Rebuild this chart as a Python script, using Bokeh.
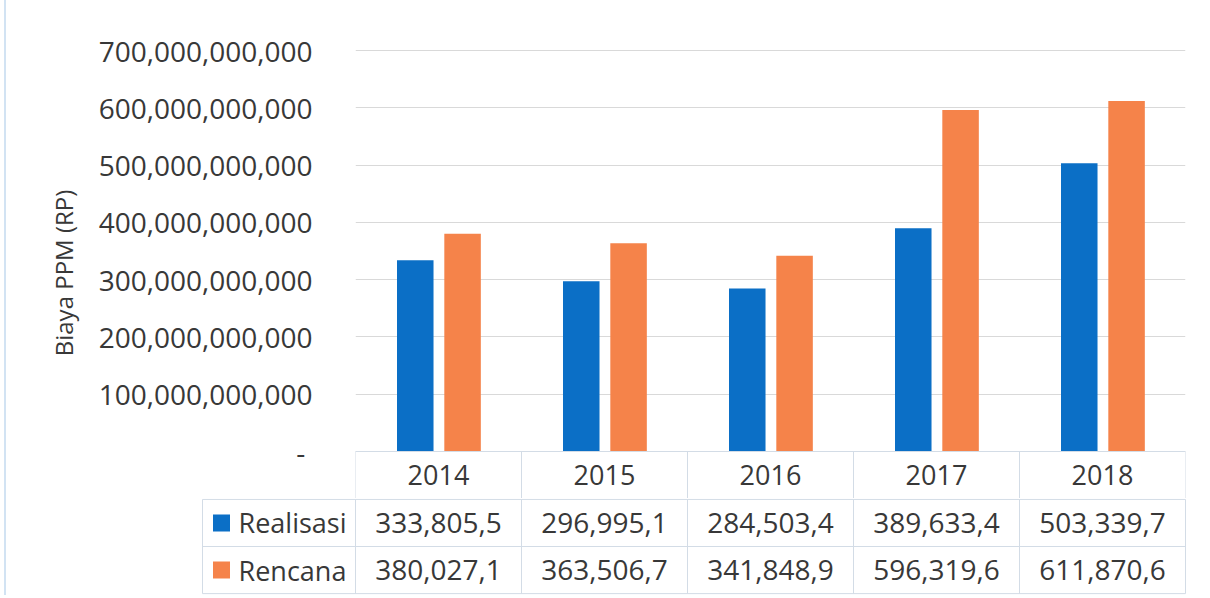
from bokeh.plotting import figure
from bokeh.layouts import column
from bokeh.models import Range1d, FixedTicker, NumeralTickFormatter, ColumnDataSource, FactorRange
from bokeh.transform import dodge
from bokeh.core.properties import value
from bokeh.embed import file_html
from bokeh.resources import INLINE

# ---------------- data ----------------
years = ["2014", "2015", "2016", "2017", "2018"]
series_names = ["Realisasi", "Rencana"]
realisasi = [333805.5e6, 296995.1e6, 284503.4e6, 389633.4e6, 503339.7e6]
rencana = [380027.1e6, 363506.7e6, 341848.9e6, 596319.6e6, 611870.6e6]
y_ticks = [0, 100e9, 200e9, 300e9, 400e9, 500e9, 600e9, 700e9]

BLUE = "#0B6FC6"
ORANGE = "#F5834A"
TEXT = "#383838"
GRID = "#d9d9d9"
TABLE_LINE = "#d3dce6"
FONT = "Open Sans"
n = len(years)
SHIFT = 6   # room for the chart's left border line

# ---------------- top chart (bars + header row of the table) ----------------
src = ColumnDataSource(dict(year=years, realisasi=realisasi, rencana=rencana))

Y_MAX = 700e9
PX_PER_UNIT = 401.0 / Y_MAX            # pixels per value unit
HEADER_H = 47.0                          # header row height (px)
TOP_PAD = 3.0
y_min = -HEADER_H / PX_PER_UNIT
y_max = Y_MAX + TOP_PAD / PX_PER_UNIT

p1 = figure(width=1205 - SHIFT, height=498,
            x_range=FactorRange(*years), y_range=Range1d(y_min, y_max),
            x_axis_location=None, output_backend="svg", toolbar_location=None,
            min_border_left=355 - SHIFT, min_border_right=20,
            min_border_top=50 - int(TOP_PAD), min_border_bottom=0)
p1.outline_line_color = None

p1.vbar(x=dodge("year", -0.14, range=p1.x_range), top="realisasi", width=0.22,
        source=src, fill_color=BLUE, line_color=None)
p1.vbar(x=dodge("year", 0.145, range=p1.x_range), top="rencana", width=0.22,
        source=src, fill_color=ORANGE, line_color=None)

ax = p1.yaxis[0]
ax.ticker = FixedTicker(ticks=y_ticks)
ax.formatter = NumeralTickFormatter(format="0,0")
ax.major_label_overrides = {0: "-\u00a0"}
ax.axis_line_color = None
ax.major_tick_line_color = None
ax.minor_tick_line_color = None
ax.major_tick_out = 0
ax.major_tick_in = 0
ax.major_label_standoff = 43
ax.major_label_text_font = FONT
ax.major_label_text_font_size = "28px"
ax.major_label_text_color = TEXT
ax.axis_label = "Biaya PPM (RP)"
ax.axis_label_text_font = FONT
ax.axis_label_text_font_size = "24px"
ax.axis_label_text_font_style = "normal"
ax.axis_label_text_color = TEXT
ax.axis_label_standoff = 16

p1.xgrid.visible = False
p1.ygrid.grid_line_color = GRID
p1.ygrid.grid_line_width = 1

# header row: cell borders and years
hy = y_min / 2.0
p1.segment(x0=list(range(n + 1)), y0=[y_min] * (n + 1), x1=list(range(n + 1)), y1=[0] * (n + 1),
           line_color=TABLE_LINE, line_width=1)
p1.segment(x0=[0], y0=[0], x1=[n], y1=[0], line_color=TABLE_LINE, line_width=1)
p1.text(x=[i + 0.5 for i in range(n)], y=[hy] * n, text=years, text_align="center",
        text_baseline="middle", text_font=value(FONT), text_font_size="27px", text_color=TEXT)

# ---------------- data rows of the table ----------------
PX = 166.0  # pixels per category
x_start = -(355 - 198) / PX
x_end = 5 + 4 / PX
p2 = figure(width=1205 - SHIFT, height=97,
            x_range=Range1d(x_start, x_end), y_range=Range1d(-0.04, 2.02),
            x_axis_location=None, y_axis_location=None,
            output_backend="svg", toolbar_location=None,
            min_border_left=198 - SHIFT, min_border_right=16, min_border_top=0, min_border_bottom=0)
p2.outline_line_color = None
p2.grid.visible = False

leg_left = -(355 - 202) / PX

x0s, y0s, x1s, y1s = [], [], [], []
for i in range(n + 1):
    x0s.append(i); y0s.append(0); x1s.append(i); y1s.append(2)
x0s.append(leg_left); y0s.append(0); x1s.append(leg_left); y1s.append(2)
for yy in (2, 1, 0):
    x0s.append(leg_left); y0s.append(yy); x1s.append(n); y1s.append(yy)
p2.segment(x0=x0s, y0=y0s, x1=x1s, y1=y1s, line_color=TABLE_LINE, line_width=1)

centers = [i + 0.5 for i in range(n)]


def fmt(v):
    return "{:,.1f}".format(v / 1e6).replace(".", ",")


p2.text(x=centers, y=[1.5] * n, text=[fmt(v) for v in realisasi], text_align="center",
        text_baseline="middle", text_font=value(FONT), text_font_size="28px", text_color=TEXT)
p2.text(x=centers, y=[0.5] * n, text=[fmt(v) for v in rencana], text_align="center",
        text_baseline="middle", text_font=value(FONT), text_font_size="28px", text_color=TEXT)

key_x = (221 - 355) / PX
lab_x = (238 - 355) / PX
p2.scatter(x=[key_x, key_x], y=[1.5, 0.5], marker="square", size=17,
           fill_color=[BLUE, ORANGE], line_color=None)
p2.text(x=[lab_x, lab_x], y=[1.5, 0.5], text=series_names, text_align="left",
        text_baseline="middle", text_font=value(FONT), text_font_size="27px", text_color=TEXT)

layout = column(p1, column(p2, spacing=0), spacing=0,
                styles={"margin-left": "4px", "border-left": "2px solid #d2e3f3"})
open("out.html", "w").write(file_html(layout, INLINE))
